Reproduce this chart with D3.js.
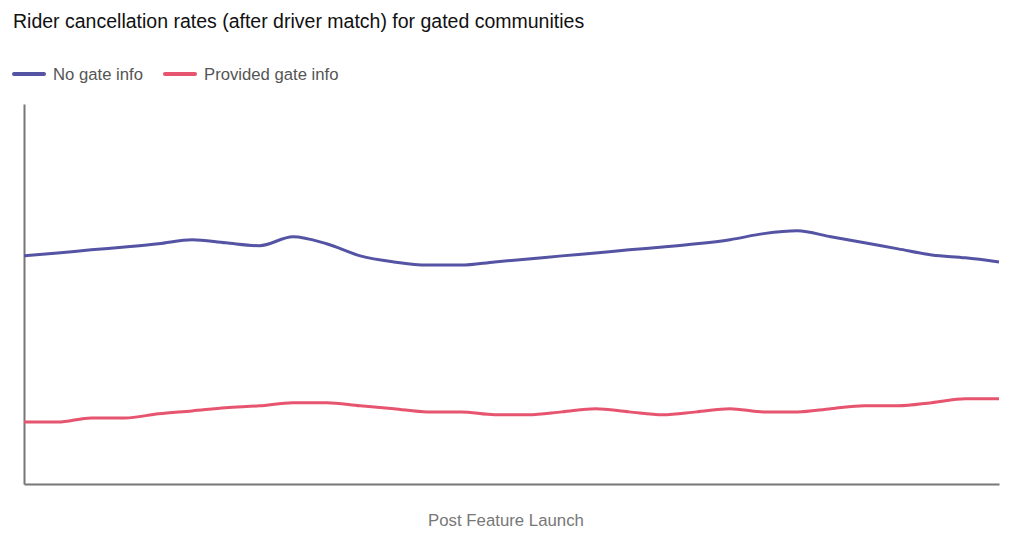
<!DOCTYPE html>
<html lang="en">
<head>
<meta charset="UTF-8">
<title>Rider cancellation rates</title>
<script src="https://d3js.org/d3.v7.min.js"></script>
<style>
  body { margin: 0; background: #fff; font-family: "Liberation Sans", Arial, sans-serif; }
  svg { display: block; }
</style>
</head>
<body>
<svg id="chart" width="1024" height="541"></svg>
<script>
// weekly points after launch (30 periods)
const periods = d3.range(1, 31);
const noGateInfo = [7.22, 7.31, 7.41, 7.50, 7.60, 7.73, 7.63, 7.54, 7.82, 7.60,
  7.22, 7.03, 6.93, 6.93, 7.03, 7.12, 7.22, 7.31, 7.41, 7.50,
  7.60, 7.73, 7.92, 8.01, 7.82, 7.63, 7.44, 7.25, 7.16, 7.03];
const providedGateInfo = [1.99, 1.99, 2.12, 2.12, 2.25, 2.34, 2.44, 2.50, 2.60, 2.60,
  2.50, 2.41, 2.31, 2.31, 2.22, 2.22, 2.31, 2.41, 2.31, 2.22,
  2.31, 2.41, 2.31, 2.31, 2.41, 2.50, 2.50, 2.60, 2.72, 2.72];
const seriesNames = ["No gate info", "Provided gate info"];
const colors = ["#5553a3", "#e6546f"];

const svg = d3.select("#chart");
const margin = { left: 24, right: 25, top: 104, bottom: 57 };
const width = 1024, height = 541;

const x = d3.scaleLinear()
  .domain(d3.extent(periods))
  .range([margin.left, width - margin.right]);
const y = d3.scaleLinear()
  .domain([0.04, 12])
  .range([height - margin.bottom, margin.top]);

svg.append("text")
  .attr("x", 13).attr("y", 28)
  .attr("font-size", 19.5).attr("fill", "#111")
  .text("Rider cancellation rates (after driver match) for gated communities");

// legend
const legend = svg.append("g").attr("transform", "translate(14,74)");
let lx = 0;
seriesNames.forEach((name, i) => {
  const g = legend.append("g").attr("transform", `translate(${lx},0)`);
  g.append("line").attr("x1", 0).attr("x2", 30)
    .attr("stroke", colors[i]).attr("stroke-width", 4).attr("stroke-linecap", "round");
  const t = g.append("text").attr("x", 39).attr("y", 6)
    .attr("font-size", 16.7).attr("fill", "#555").text(name);
  lx += 39 + t.node().getComputedTextLength() + 22;
});

// axes without ticks
svg.append("g")
  .attr("transform", `translate(0,${y.range()[0]})`)
  .call(d3.axisBottom(x).tickSize(0).tickFormat(""))
  .call(g => g.select(".domain").attr("stroke", "#777").attr("stroke-width", 2));
svg.append("g")
  .attr("transform", `translate(${margin.left},0)`)
  .call(d3.axisLeft(y).tickSize(0).tickFormat(""))
  .call(g => g.select(".domain").attr("stroke", "#777").attr("stroke-width", 2));

svg.append("text")
  .attr("x", 506).attr("y", 526)
  .attr("text-anchor", "middle").attr("font-size", 16.8).attr("fill", "#777")
  .text("Post Feature Launch");

const line = d3.line()
  .x((d, i) => x(periods[i]))
  .y(d => y(d))
  .curve(d3.curveMonotoneX);

[noGateInfo, providedGateInfo].forEach((vals, i) => {
  svg.append("path")
    .datum(vals)
    .attr("fill", "none")
    .attr("stroke", colors[i])
    .attr("stroke-width", 3)
    .attr("d", line);
});
</script>
</body>
</html>
